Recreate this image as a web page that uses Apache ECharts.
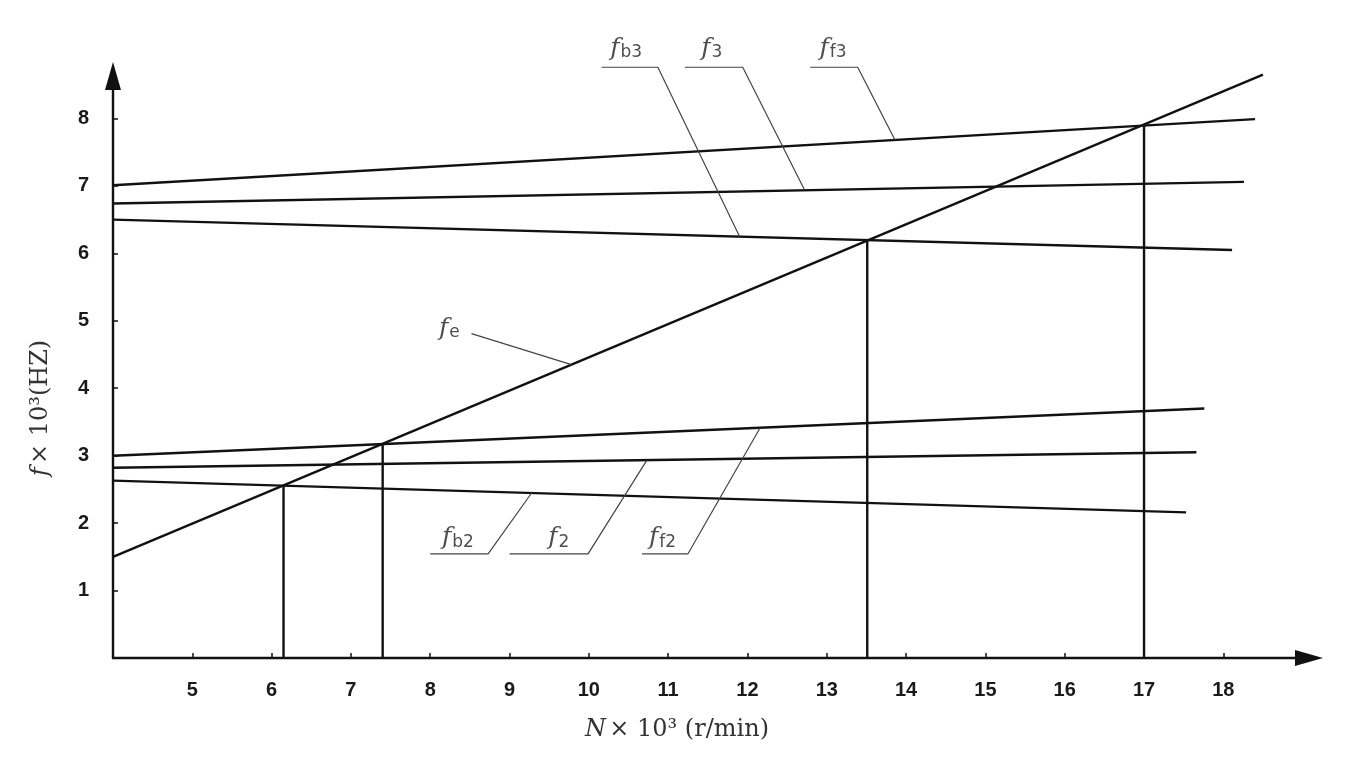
<!DOCTYPE html>
<html>
<head>
<meta charset="utf-8">
<script src="https://cdn.jsdelivr.net/npm/echarts@6/dist/echarts.min.js"></script>
<style>
html,body{margin:0;padding:0;background:#fff;}
#c{width:1347px;height:764px;}
</style>
</head>
<body>
<div id="c"></div>
<script>
// ---- data (N x10^3 r/min, f x10^3 Hz) ----
const xTicks = [5,6,7,8,9,10,11,12,13,14,15,16,17,18];
const yTicks = [1,2,3,4,5,6,7,8];

const fe  = [[4, 1.50], [18.50, 8.65]];
const ff3 = [[4, 7.01], [18.40, 7.99]];
const f3  = [[4, 6.74], [18.26, 7.06]];
const fb3 = [[4, 6.50], [18.11, 6.05]];
const ff2 = [[4, 3.00], [17.76, 3.70]];
const f2  = [[4, 2.82], [17.66, 3.05]];
const fb2 = [[4, 2.63], [17.53, 2.16]];

const dropX = [6.15, 7.40, 13.51, 17.00];
const dropY = [2.56, 3.18, 6.20, 7.90];

// label names, anchor positions and leader polylines (data units)
const labelNames = ['fb3', 'f3', 'ff3', 'fe', 'fb2', 'f2', 'ff2'];
const labelSubs  = ['b3', '3', 'f3', 'e', 'b2', '2', 'f2'];
const labelPos   = [[10.47, 9.04], [11.55, 9.04], [13.08, 9.04], [8.24, 4.89], [8.35, 1.78], [9.62, 1.78], [10.93, 1.78]];
const leaders = [
  [[10.16, 8.76], [10.87, 8.76], [11.90, 6.25]],
  [[11.21, 8.76], [11.94, 8.76], [12.72, 6.94]],
  [[12.79, 8.76], [13.39, 8.76], [13.86, 7.68]],
  [[8.52, 4.81], [9.78, 4.35]],
  [[8.00, 1.545], [8.73, 1.545], [9.28, 2.45]],
  [[9.00, 1.545], [9.99, 1.545], [10.73, 2.93]],
  [[10.67, 1.545], [11.25, 1.545], [12.16, 3.415]]
];

const mainLines = [fe, ff3, f3, fb3, ff2, f2, fb2];

const series = [];
mainLines.forEach(function (d) {
  series.push({
    type: 'line', data: d, symbol: 'none', clip: false, silent: true,
    lineStyle: { color: '#111', width: 2.4 }
  });
});
dropX.forEach(function (x, i) {
  series.push({
    type: 'line', data: [[x, 0], [x, dropY[i]]], symbol: 'none', clip: false, silent: true,
    lineStyle: { color: '#111', width: 2.4 }
  });
});
leaders.forEach(function (d) {
  series.push({
    type: 'line', data: d, symbol: 'none', clip: false, silent: true,
    lineStyle: { color: '#444', width: 1.2 }
  });
});
series.push({
  type: 'scatter', symbolSize: 0, clip: false, silent: true,
  data: labelPos.map(function (p, i) { return { value: p, sub: labelSubs[i] }; }),
  label: {
    show: true, position: 'inside',
    formatter: function (p) { return '{f|f}{s|' + p.data.sub + '}'; },
    rich: {
      f: { fontFamily: 'DejaVu Serif', fontStyle: 'italic', fontSize: 25, color: '#222', lineHeight: 30 },
      s: { fontFamily: 'DejaVu Sans', fontSize: 17, color: '#222', lineHeight: 17, verticalAlign: 'bottom', padding: [0, 0, 2, 1] }
    }
  }
});

const nameRich = {
  i: { fontFamily: 'DejaVu Serif', fontStyle: 'italic', fontSize: 24, color: '#333' },
  t: { fontFamily: 'DejaVu Serif', fontSize: 24, color: '#333' }
};

const chart = echarts.init(document.getElementById('c'), null, { renderer: 'canvas' });
chart.setOption({
  backgroundColor: '#fff',
  animation: false,
  grid: { left: 113, right: 38, top: 76, bottom: 106, containLabel: false },
  xAxis: {
    type: 'value', min: 4, max: 19.08,
    name: '{i|N} {t|× 10³ (r/min)}',
    nameLocation: 'middle', nameGap: 60, nameMoveOverlap: false,
    nameTextStyle: { padding: [0, 68, 0, 0], rich: nameRich },
    axisLine: { show: true, lineStyle: { color: '#111', width: 2.4 }, symbol: ['none', 'triangle'], symbolSize: [16, 28] },
    axisTick: { show: true, inside: true, length: 5, lineStyle: { color: '#111', width: 1.5 }, customValues: xTicks },
    axisLabel: { show: true, margin: 22, fontFamily: 'Liberation Sans', fontWeight: 'bold', fontSize: 20, color: '#1a1a1a', customValues: xTicks },
    splitLine: { show: false }
  },
  yAxis: {
    type: 'value', min: 0, max: 8.63,
    name: '{i|f} {t|× 10³(HZ)}',
    nameLocation: 'middle', nameGap: 60, nameRotate: 90, nameMoveOverlap: false,
    nameTextStyle: { padding: [0, 82, 0, 0], rich: nameRich },
    axisLine: { show: true, lineStyle: { color: '#111', width: 2.4 }, symbol: ['none', 'triangle'], symbolSize: [16, 28] },
    axisTick: { show: true, inside: true, length: 5, lineStyle: { color: '#111', width: 1.5 }, customValues: yTicks },
    axisLabel: { show: true, margin: 24, fontFamily: 'Liberation Sans', fontWeight: 'bold', fontSize: 20, color: '#1a1a1a', customValues: yTicks },
    splitLine: { show: false }
  },
  series: series
});
</script>
</body>
</html>
